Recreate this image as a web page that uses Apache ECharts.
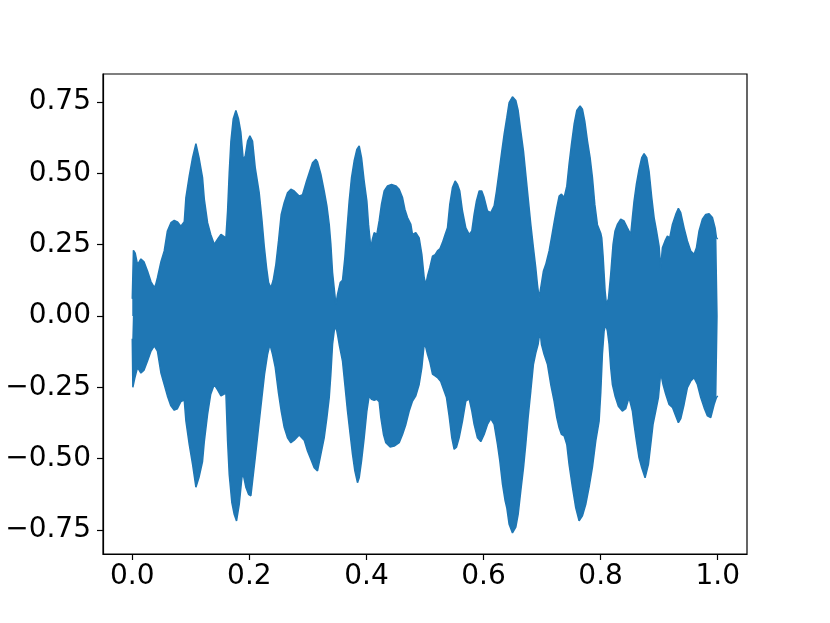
<!DOCTYPE html>
<html>
<head>
<meta charset="utf-8">
<script src="https://cdn.jsdelivr.net/npm/echarts@6/dist/echarts.min.js"></script>
<style>
html,body{margin:0;padding:0;background:#fff;}
#chart{width:830px;height:623px;}
</style>
</head>
<body>
<div id="chart"></div>
<script>
// Upper envelope of the waveform (time, amplitude)
const upperT = [0.000,0.002,0.005,0.009,0.0148,0.020,0.026,0.032,0.0376,0.040,0.043,0.049,0.0546,0.060,0.066,0.0717,0.077,0.083,0.0888,0.0916,0.0973,0.103,0.1087,0.114,0.120,0.123,0.1286,0.134,0.140,0.146,0.1515,
0.1542,0.1599,0.1628,0.1656,0.1685,0.1724,0.1770,0.1815,0.1855,0.1895,0.1929,0.1969,0.2009,0.2054,0.2100,0.2168,0.2214,0.2254,0.2294,0.2328,0.2368,0.2407,0.2453,0.2498,0.2544,0.2595,0.2652,0.2709,0.2766,0.2851,0.2908,0.2977,0.3033,0.3079,0.3136,
0.3164,0.3221,0.3278,0.3324,0.3364,0.3392,0.3421,0.3460,0.3478,0.3506,0.3552,0.3591,0.3631,0.3665,0.3705,0.3745,0.3790,0.3836,0.3876,0.3916,0.3961,0.4007,0.4035,0.4075,0.4103,0.4132,0.4177,0.4217,0.4257,0.4303,0.4360,0.4428,0.4502,0.4559,0.4616,0.4656,0.4701,
0.4758,0.4786,0.4843,0.4900,0.4946,0.4986,0.5014,0.5043,0.5082,0.5128,0.5173,0.5213,0.5253,0.5298,0.5344,0.5384,0.5424,0.5469,0.5515,0.5555,0.5594,0.5640,0.5697,0.5754,0.5800,0.5839,0.5879,0.5925,0.5970,0.6010,0.6067,0.6124,0.6181,0.6221,0.6267,0.6312,0.6352,
0.6397,0.6437,0.6494,0.6551,0.6591,0.6636,0.6682,0.6721,0.6761,0.6807,0.6852,0.6892,0.6920,0.6949,0.6977,0.7023,0.7063,0.7120,0.7160,0.7205,0.7251,0.7291,0.7331,0.7376,0.7422,0.7461,0.7501,0.7547,0.7592,0.7649,0.7689,0.7729,0.7775,0.7820,0.7860,0.7900,0.7945,
0.8002,0.8019,0.8042,0.8076,0.8099,0.8133,0.8172,0.8212,0.8246,0.8286,0.8343,0.8400,0.8457,0.8514,0.8542,0.8571,0.8611,0.8656,0.8702,0.8742,0.8787,0.8827,0.8873,0.8913,0.8953,0.8998,0.9026,0.9055,0.9100,0.9140,0.9180,0.9226,0.9283,0.9328,0.9368,0.9425,0.9482,0.9539,0.9596,0.9636,0.9681,0.9738,0.9795,0.9852,0.9909,0.9955,0.9978,1.000];
const upperV = [0.06,0.23,0.22,0.18,0.20,0.19,0.158,0.12,0.10,0.11,0.134,0.19,0.228,0.298,0.327,0.335,0.33,0.315,0.33,0.415,0.49,0.555,0.604,0.555,0.485,0.41,0.327,0.286,0.251,0.27,0.286,
0.29,0.274,0.368,0.502,0.613,0.69,0.72,0.69,0.643,0.549,0.56,0.613,0.631,0.613,0.52,0.432,0.339,0.245,0.169,0.117,0.099,0.125,0.181,0.263,0.356,0.397,0.432,0.444,0.438,0.42,0.425,0.473,0.508,0.537,0.549,
0.54,0.497,0.438,0.386,0.321,0.251,0.152,0.076,0.041,0.076,0.117,0.125,0.204,0.298,0.403,0.485,0.543,0.584,0.596,0.555,0.473,0.403,0.321,0.239,0.27,0.292,0.286,0.333,0.392,0.438,0.456,0.461,0.456,0.444,0.415,0.374,0.345,
0.321,0.286,0.292,0.274,0.216,0.134,0.111,0.14,0.169,0.21,0.215,0.228,0.235,0.257,0.286,0.309,0.392,0.45,0.473,0.461,0.438,0.368,0.309,0.286,0.298,0.356,0.403,0.438,0.438,0.415,0.368,0.362,0.386,0.438,0.508,0.578,0.637,
0.695,0.748,0.768,0.755,0.72,0.648,0.578,0.497,0.415,0.321,0.239,0.169,0.111,0.064,0.099,0.158,0.181,0.228,0.274,0.327,0.38,0.42,0.427,0.415,0.455,0.532,0.601,0.672,0.72,0.736,0.725,0.683,0.613,0.555,0.485,0.392,0.32,
0.29,0.274,0.21,0.088,0.041,0.06,0.146,0.251,0.298,0.321,0.339,0.333,0.309,0.286,0.345,0.403,0.462,0.514,0.555,0.569,0.555,0.508,0.415,0.345,0.30,0.245,0.169,0.239,0.263,0.28,0.274,0.321,0.356,0.377,0.362,0.309,0.263,0.228,0.216,0.239,0.298,0.339,0.356,0.358,0.345,0.309,0.274,0.27];

// Lower envelope of the waveform (time, amplitude)
const lowerT = [0.000,0.001,0.004,0.009,0.0148,0.020,0.026,0.032,0.0376,0.043,0.049,0.0546,0.060,0.066,0.0717,0.077,0.083,0.0888,0.0916,0.0973,0.103,0.1087,0.114,0.120,0.123,0.1286,0.134,0.140,0.146,0.1515,
0.1542,0.1599,0.1628,0.1656,0.1701,0.1741,0.1781,0.1827,0.1872,0.1895,0.1940,0.1986,0.2026,0.2054,0.2100,0.2157,0.2214,0.2259,0.2311,0.2351,0.2396,0.2442,0.2498,0.2544,0.2595,0.2652,0.2709,0.2766,0.2851,0.2936,0.2993,0.3050,0.3107,0.3164,
0.3221,0.3278,0.3324,0.3364,0.3392,0.3421,0.3449,0.3478,0.3506,0.3534,0.3591,0.3631,0.3676,0.3722,0.3762,0.3802,0.3847,0.3876,0.3916,0.3961,0.4007,0.4046,0.4086,0.4132,0.4177,0.4217,0.4246,0.4291,0.4331,0.4405,0.4474,0.4559,0.4616,0.4673,0.4730,0.4787,
0.4843,0.4900,0.4946,0.4986,0.5014,0.5043,0.5082,0.5128,0.5173,0.5213,0.5270,0.5327,0.5367,0.5412,0.5458,0.5498,0.5537,0.5583,0.5640,0.5697,0.5754,0.5800,0.5839,0.5896,0.5953,0.6010,0.6067,0.6124,0.6181,0.6238,0.6278,0.6324,0.6369,
0.6397,0.6437,0.6494,0.6551,0.6591,0.6636,0.6682,0.6721,0.6761,0.6807,0.6852,0.6892,0.6932,0.6966,0.6989,0.7034,0.7091,0.7148,0.7205,0.7251,0.7291,0.7331,0.7376,0.7422,0.7461,0.7518,0.7575,0.7632,0.7689,0.7746,0.7803,0.7860,0.7917,0.7974,
0.8002,0.8030,0.8059,0.8087,0.8116,0.8144,0.8172,0.8201,0.8246,0.8303,0.8371,0.8428,0.8485,0.8542,0.8571,0.8611,0.8656,0.8702,0.8759,0.8816,0.8856,0.8895,0.8941,0.8987,0.9026,0.9066,0.9112,0.9169,0.9226,0.9283,0.9328,0.9368,0.9425,0.9482,0.9539,0.9596,0.9653,0.9710,0.9767,0.9824,0.9881,0.9938,0.9978,1.000];
const lowerV = [-0.08,-0.25,-0.22,-0.18,-0.20,-0.19,-0.158,-0.123,-0.105,-0.123,-0.20,-0.24,-0.28,-0.315,-0.33,-0.325,-0.30,-0.295,-0.368,-0.45,-0.52,-0.60,-0.565,-0.51,-0.44,-0.345,-0.274,-0.24,-0.26,-0.28,
-0.285,-0.27,-0.438,-0.555,-0.654,-0.695,-0.718,-0.66,-0.567,-0.555,-0.60,-0.625,-0.63,-0.58,-0.497,-0.391,-0.286,-0.204,-0.134,-0.099,-0.134,-0.18,-0.27,-0.333,-0.39,-0.427,-0.444,-0.435,-0.417,-0.435,-0.473,-0.502,-0.532,-0.543,
-0.485,-0.427,-0.356,-0.286,-0.204,-0.099,-0.053,-0.035,-0.065,-0.099,-0.158,-0.24,-0.333,-0.415,-0.485,-0.543,-0.584,-0.567,-0.508,-0.427,-0.333,-0.28,-0.292,-0.295,-0.292,-0.30,-0.356,-0.415,-0.444,-0.459,-0.456,-0.444,-0.415,-0.38,-0.333,-0.298,
-0.28,-0.24,-0.181,-0.099,-0.11,-0.134,-0.16,-0.204,-0.21,-0.216,-0.23,-0.263,-0.286,-0.35,-0.427,-0.467,-0.46,-0.427,-0.368,-0.298,-0.29,-0.333,-0.38,-0.427,-0.44,-0.415,-0.38,-0.36,-0.38,-0.45,-0.508,-0.59,-0.648,
-0.672,-0.73,-0.76,-0.74,-0.695,-0.613,-0.532,-0.45,-0.356,-0.263,-0.169,-0.13,-0.099,-0.053,-0.099,-0.134,-0.169,-0.24,-0.298,-0.356,-0.392,-0.415,-0.42,-0.45,-0.52,-0.60,-0.672,-0.718,-0.70,-0.66,-0.60,-0.53,-0.438,-0.368,
-0.27,-0.134,-0.053,-0.029,-0.053,-0.099,-0.181,-0.24,-0.28,-0.316,-0.333,-0.325,-0.286,-0.333,-0.38,-0.438,-0.497,-0.532,-0.567,-0.52,-0.45,-0.38,-0.333,-0.286,-0.199,-0.24,-0.274,-0.31,-0.32,-0.35,-0.374,-0.36,-0.31,-0.251,-0.228,-0.216,-0.24,-0.286,-0.321,-0.35,-0.356,-0.31,-0.286,-0.28];

const xTicks = [0.0, 0.2, 0.4, 0.6, 0.8, 1.0];
const yTicks = [-0.75, -0.5, -0.25, 0.0, 0.25, 0.5, 0.75];

const color = '#1f77b4';
const upperData = upperT.map((t, i) => [t, upperV[i]]);
const lowerData = lowerT.map((t, i) => [t, lowerV[i]]);

const font = {fontFamily: 'DejaVu Sans', fontSize: 28, color: '#000'};
const chart = echarts.init(document.getElementById('chart'), null, {renderer: 'canvas'});
chart.setOption({
  animation: false,
  backgroundColor: '#fff',
  grid: {left: 103, right: 83, top: 74, bottom: 69, show: true, borderColor: '#000', borderWidth: 1.2, backgroundColor: 'transparent'},
  xAxis: {
    type: 'value', min: -0.05, max: 1.05,
    splitLine: {show: false},
    axisLine: {show: true, onZero: false, lineStyle: {color: '#000', width: 1.2}},
    axisTick: {show: true, customValues: xTicks, length: 6, lineStyle: {color: '#000', width: 1.2}},
    axisLabel: Object.assign({customValues: xTicks, margin: 9, formatter: v => v.toFixed(1)}, font)
  },
  yAxis: {
    type: 'value', min: -0.834, max: 0.848,
    splitLine: {show: false},
    axisLine: {show: true, onZero: false, lineStyle: {color: '#000', width: 1.2}},
    axisTick: {show: true, customValues: yTicks, length: 6, lineStyle: {color: '#000', width: 1.2}},
    axisLabel: Object.assign({customValues: yTicks, margin: 12, formatter: v => (v < 0 ? '\u2212' : '') + Math.abs(v).toFixed(2)}, font)
  },
  series: [
    {type: 'line', data: upperData, symbol: 'none', lineStyle: {color: color, width: 1.5}, areaStyle: {color: color, opacity: 1, origin: 0}, z: 2},
    {type: 'line', data: lowerData, symbol: 'none', lineStyle: {color: color, width: 1.5}, areaStyle: {color: color, opacity: 1, origin: 0}, z: 2}
  ]
});
</script>
</body>
</html>
